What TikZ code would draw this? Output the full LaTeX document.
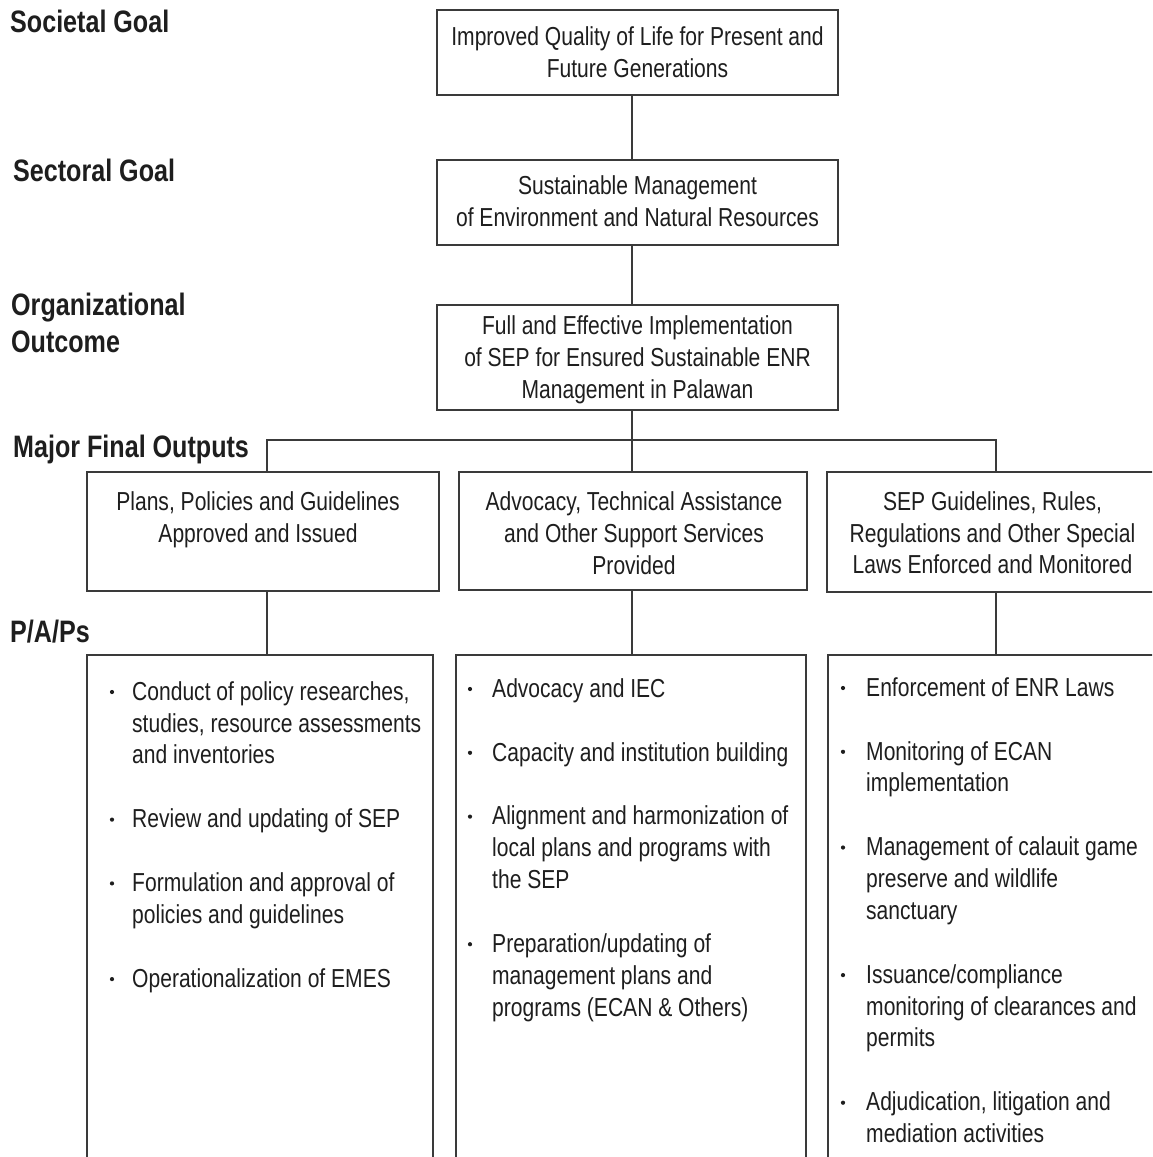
\documentclass[tikz,border=0pt]{standalone}
\usepackage{fontspec}
\setmainfont{Liberation Sans}[FakeStretch=0.81]
\definecolor{ln}{HTML}{3A3A3A}
\definecolor{tx}{HTML}{1E1E1E}
\newcommand\bodyfnt{\fontsize{26}{31.8}\selectfont}
\newcommand\labfnt{\bfseries\fontsize{31}{37}\selectfont}
\tikzset{
  box/.style={draw=ln, line width=1.3pt, inner sep=0, fill=none},
  conn/.style={draw=ln, line width=1.3pt},
  txt/.style={font=\bodyfnt, text=tx, inner sep=0, align=center, anchor=north},
  itm/.style={font=\bodyfnt, text=tx, inner sep=0, align=left, anchor=north west},
  lab/.style={font=\labfnt, text=tx, inner sep=0, anchor=base west},
  labml/.style={font=\labfnt, text=tx, inner sep=0, align=left, anchor=north west},
  dot/.style={circle, fill=tx, draw=none, inner sep=0, minimum size=4.2pt}
}
\begin{document}
\begin{tikzpicture}[x=1pt,y=-1pt]
\clip (0,0) rectangle (1152,1157);
\fill[white] (0,0) rectangle (1152,1157);

% level labels
\node[lab] (lsoc) at (10,32) {Societal Goal};
\node[lab] (lsec) at (13,181) {Sectoral Goal};
\node[labml] (lorg) at (11,315-25.9) {\strut Organizational\\Outcome};
\node[lab] (lmfo) at (13,457) {Major Final Outputs};
\node[lab] (lpap) at (10,642) {P/A/Ps};

% top boxes
\node[box, minimum width=401, minimum height=85] (t1) at (637.5,52.5) {};
\node[box, minimum width=401, minimum height=85] (t2) at (637.5,202.5) {};
\node[box, minimum width=401, minimum height=105] (t3) at (637.5,357.5) {};
\node[txt] (t1x) at (637.5,45-22.26) {\strut Improved Quality of Life for Present and\\Future Generations};
\node[txt] (t2x) at (637.5,194-22.26) {\strut Sustainable Management\\of Environment and Natural Resources};
\node[txt] (t3x) at (637.5,334.5-22.26) {\strut Full and Effective Implementation\\of SEP for Ensured Sustainable ENR\\Management in Palawan};

% major final outputs
\node[box, minimum width=352, minimum height=119] (mA) at (263,531.5) {};
\node[box, minimum width=348, minimum height=118] (mB) at (633,531) {};
\node[box, minimum width=333, minimum height=120] (mC) at (993.5,532) {};
\node[txt] (mAx) at (258,510.5-22.26) {\strut Plans, Policies and Guidelines\\Approved and Issued};
\node[txt] (mBx) at (634,510.5-22.26) {\strut Advocacy, Technical Assistance\\and Other Support Services\\Provided};
\node[txt] (mCx) at (992.5,510-22.26) {\strut SEP Guidelines, Rules,\\Regulations and Other Special\\Laws Enforced and Monitored};

% P/A/P boxes (open at the bottom)
\node[box, minimum width=346, minimum height=515] (pA) at (260,912.5) {};
\node[box, minimum width=350, minimum height=515] (pB) at (631,912.5) {};
\node[box, minimum width=342, minimum height=515] (pC) at (999,912.5) {};

% connectors
\coordinate (sx) at (632,0);
\coordinate (ba) at (267,440);
\coordinate (bc) at (996,440);
\draw[conn] (t1.south -| sx) -- (t2.north -| sx);
\draw[conn] (t2.south -| sx) -- (t3.north -| sx);
\draw[conn] (t3.south -| sx) -- (mB.north -| sx);
\draw[conn] (mA.north -| ba) -- (ba) -- (bc) -- (mC.north -| bc);
\draw[conn] (mA.south -| ba) -- (pA.north -| ba);
\draw[conn] (mB.south -| sx) -- (pB.north -| sx);
\draw[conn] (mC.south -| bc) -- (pC.north -| bc);

% column A items
\node[dot] (da1) at (112,700-8) {};
\node[itm] (ia1) at (132,700-22.26) {\strut Conduct of policy researches,\\studies, resource assessments\\and inventories};
\node[dot] (da2) at (112,700+4*31.9-8) {};
\node[itm] (ia2) at (132,700+4*31.9-22.26) {\strut Review and updating of SEP};
\node[dot] (da3) at (112,700+6*31.9-8) {};
\node[itm] (ia3) at (132,700+6*31.9-22.26) {\strut Formulation and approval of\\policies and guidelines};
\node[dot] (da4) at (112,700+9*31.9-8) {};
\node[itm] (ia4) at (132,700+9*31.9-22.26) {\strut Operationalization of EMES};

% column B items
\node[dot] (db1) at (470,697-8) {};
\node[itm] (ib1) at (492,697-22.26) {\strut Advocacy and IEC};
\node[dot] (db2) at (470,697+2*31.9-8) {};
\node[itm] (ib2) at (492,697+2*31.9-22.26) {\strut Capacity and institution building};
\node[dot] (db3) at (470,697+4*31.9-8) {};
\node[itm] (ib3) at (492,697+4*31.9-22.26) {\strut Alignment and harmonization of\\local plans and programs with\\the SEP};
\node[dot] (db4) at (470,697+8*31.9-8) {};
\node[itm] (ib4) at (492,697+8*31.9-22.26) {\strut Preparation/updating of\\management plans and\\programs (ECAN \& Others)};

% column C items
\node[dot] (dc1) at (843,696-8) {};
\node[itm] (ic1) at (866,696-22.26) {\strut Enforcement of ENR Laws};
\node[dot] (dc2) at (843,696+2*31.9-8) {};
\node[itm] (ic2) at (866,696+2*31.9-22.26) {\strut Monitoring of ECAN\\implementation};
\node[dot] (dc3) at (843,696+5*31.9-8) {};
\node[itm] (ic3) at (866,696+5*31.9-22.26) {\strut Management of calauit game\\preserve and wildlife\\sanctuary};
\node[dot] (dc4) at (843,696+9*31.9-8) {};
\node[itm] (ic4) at (866,696+9*31.9-22.26) {\strut Issuance/compliance\\monitoring of clearances and\\permits};
\node[dot] (dc5) at (843,696+13*31.9-8) {};
\node[itm] (ic5) at (866,696+13*31.9-22.26) {\strut Adjudication, litigation and\\mediation activities};
\end{tikzpicture}
\end{document}
